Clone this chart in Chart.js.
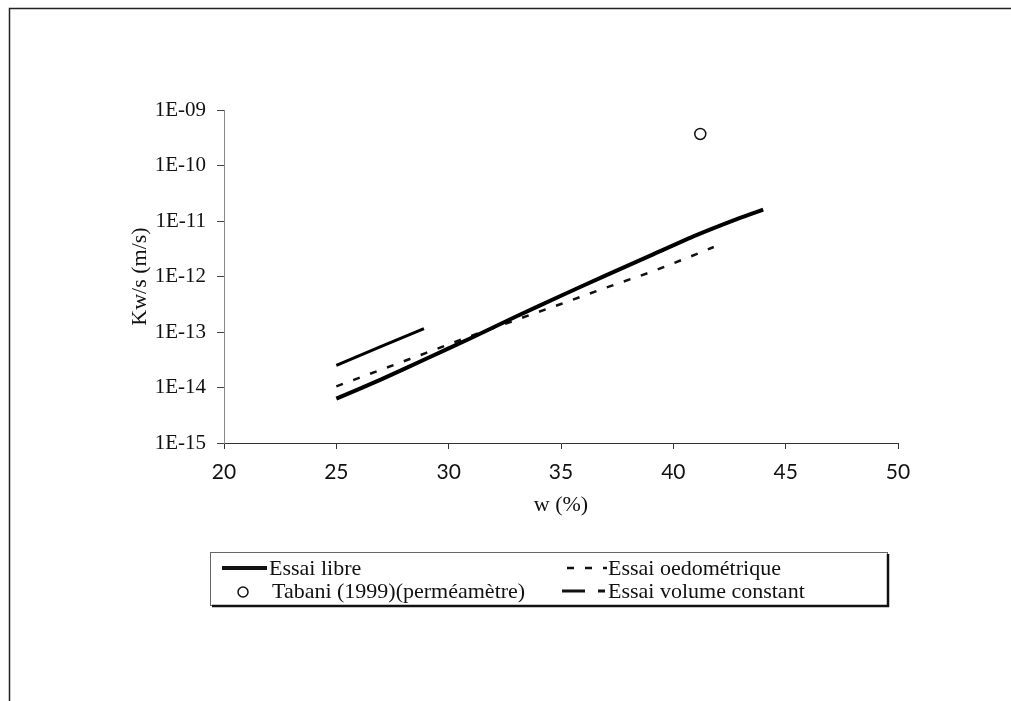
<!DOCTYPE html>
<html>
<head>
<meta charset="utf-8">
<script src="https://cdn.jsdelivr.net/npm/chart.js@4"></script>
<style>
  html, body { margin: 0; padding: 0; background: #fff; }
  #wrap { width: 1011px; height: 701px; position: relative; }
</style>
</head>
<body>
<div id="wrap"><canvas id="chart" width="1011" height="701"></canvas></div>
<script>
// Données (teneur en eau w en %, perméabilité en m/s)
const libreW = [25, 27, 29, 31, 33, 35, 37, 39, 41, 43, 44];
const libreK = [6.3e-15, 1.4e-14, 3.3e-14, 7.8e-14, 1.9e-13, 4.5e-13, 1.05e-12, 2.4e-12, 5.5e-12, 1.15e-11, 1.6e-11];

const oedoW = [25, 27, 29, 31, 33, 35, 37, 39, 41, 41.8];
const oedoK = [1.05e-14, 2.1e-14, 4.2e-14, 8.5e-14, 1.65e-13, 3.2e-13, 6.3e-13, 1.2e-12, 2.5e-12, 3.4e-12];

const tabaniW = [41.2];
const tabaniK = [3.7e-10];

const volumeW = [25, 27, 28.9];
const volumeK = [2.5e-14, 5.5e-14, 1.15e-13];

const yTickValues = [1e-15, 1e-14, 1e-13, 1e-12, 1e-11, 1e-10, 1e-9];
const yTickLabels = ["1E-15", "1E-14", "1E-13", "1E-12", "1E-11", "1E-10", "1E-09"];

const seriesLabels = ["Essai libre", "Essai oedométrique", "Tabani (1999)(perméamètre)", "Essai volume constant"];

function toPoints(xs, ys) {
    return xs.map((x, i) => ({ x: x, y: ys[i] }));
}

const serif = "'Liberation Serif', 'Times New Roman', serif";

// Cadre extérieur de la figure
const framePlugin = {
    id: "frame",
    beforeDraw(chart) {
        const c = chart.ctx;
        c.save();
        c.strokeStyle = "#222";
        c.lineWidth = 1.5;
        c.beginPath();
        c.moveTo(9.5, 701);
        c.lineTo(9.5, 8.5);
        c.lineTo(1011, 8.5);
        c.stroke();
        c.restore();
    }
};

// Légende encadrée sur deux colonnes
const boxLegend = {
    id: "boxLegend",
    afterDraw(chart) {
        const c = chart.ctx;
        const ds = chart.data.datasets;
        const box = { x: 210, y: 552, w: 677, h: 53 };
        c.save();
        c.fillStyle = "#fff";
        c.fillRect(box.x, box.y, box.w, box.h);
        c.strokeStyle = "#666";
        c.lineWidth = 1;
        c.strokeRect(box.x + 0.5, box.y + 0.5, box.w, box.h);
        // ombre à droite et en bas
        c.strokeStyle = "#111";
        c.lineWidth = 2.5;
        c.beginPath();
        c.moveTo(box.x + box.w + 1, box.y + 2);
        c.lineTo(box.x + box.w + 1, box.y + box.h + 1);
        c.lineTo(box.x + 2, box.y + box.h + 1);
        c.stroke();

        const slots = [
            { x0: 222, x1: 267, tx: 269, y: 568 },
            { x0: 567, x1: 607, tx: 608, y: 568 },
            { x0: 236, x1: 250, tx: 272, y: 591 },
            { x0: 562, x1: 605, tx: 608, y: 591 }
        ];
        c.font = "22px " + serif;
        c.textBaseline = "middle";
        c.fillStyle = "#111";
        ds.forEach((d, i) => {
            const s = slots[i];
            c.strokeStyle = "#111";
            if (d.showLine) {
                c.lineWidth = d.borderWidth;
                c.setLineDash(d.legendDash || d.borderDash || []);
                c.beginPath();
                c.moveTo(s.x0, s.y);
                c.lineTo(s.x1, s.y);
                c.stroke();
                c.setLineDash([]);
            } else {
                c.lineWidth = 1.5;
                c.beginPath();
                c.arc((s.x0 + s.x1) / 2, s.y + 1, 5, 0, Math.PI * 2);
                c.stroke();
            }
            c.fillText(d.label, s.tx, s.y + 1);
        });
        c.restore();
    }
};

const ctx = document.getElementById("chart").getContext("2d");
const chart = new Chart(ctx, {
    type: "scatter",
    data: {
        datasets: [
            {
                label: seriesLabels[0],
                data: toPoints(libreW, libreK),
                showLine: true,
                borderColor: "#000",
                borderWidth: 4,
                tension: 0.2,
                pointRadius: 0
            },
            {
                label: seriesLabels[1],
                data: toPoints(oedoW, oedoK),
                showLine: true,
                borderColor: "#111",
                borderWidth: 2.5,
                borderDash: [7, 11],
                pointRadius: 0
            },
            {
                label: seriesLabels[2],
                data: toPoints(tabaniW, tabaniK),
                showLine: false,
                pointStyle: "circle",
                pointRadius: 5.5,
                borderWidth: 1.5,
                borderColor: "#111",
                backgroundColor: "#fff"
            },
            {
                label: seriesLabels[3],
                data: toPoints(volumeW, volumeK),
                showLine: true,
                borderColor: "#000",
                borderWidth: 3,
                legendDash: [23, 13, 7, 0],
                pointRadius: 0
            }
        ]
    },
    options: {
        responsive: false,
        animation: false,
        layout: { padding: { left: 110, top: 110, right: 113, bottom: 183 } },
        plugins: {
            legend: { display: false },
            tooltip: { enabled: false }
        },
        scales: {
            x: {
                type: "linear",
                min: 20,
                max: 50,
                afterFit: s => { s.height = 75; },
                ticks: {
                    stepSize: 5,
                    color: "#111",
                    padding: 11,
                    font: { family: "Lato, 'Open Sans', sans-serif", size: 21 }
                },
                grid: { drawOnChartArea: false, tickLength: 6, color: "#333" },
                border: { color: "#333", width: 1 },
                title: {
                    display: true,
                    text: "w (%)",
                    color: "#111",
                    padding: { top: 0, bottom: 0 },
                    font: { family: serif, size: 22 }
                }
            },
            y: {
                type: "logarithmic",
                min: 1e-15,
                max: 1e-9,
                afterFit: s => { s.width = 114; },
                afterBuildTicks: s => { s.ticks = yTickValues.map(v => ({ value: v })); },
                ticks: {
                    color: "#111",
                    padding: 11,
                    autoSkip: false,
                    font: { family: serif, size: 21 },
                    callback: (v, i) => yTickLabels[i]
                },
                grid: { drawOnChartArea: false, tickLength: 7, color: "#444" },
                border: { color: "#888", width: 1, dash: [3, 1] },
                title: {
                    display: true,
                    text: "Kw/s (m/s)",
                    color: "#111",
                    padding: { top: 17, bottom: 0 },
                    font: { family: serif, size: 22 }
                }
            }
        }
    },
    plugins: [framePlugin, boxLegend]
});
</script>
</body>
</html>
